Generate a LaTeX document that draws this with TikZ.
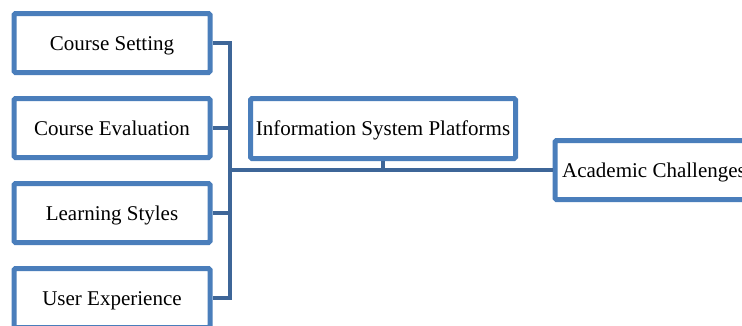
\documentclass[tikz,border=0pt]{standalone}
\usepackage{fontspec}
\setmainfont{Liberation Serif}
\definecolor{boxblue}{RGB}{74,126,187}
\definecolor{lineblue}{RGB}{62,102,152}
\begin{document}
\begin{tikzpicture}[x=1pt,y=-1pt,
  box/.style={draw=boxblue, line width=5pt, rounded corners=1.5pt, fill=white,
    minimum height=59pt, inner sep=0pt, text height=14pt, text depth=0pt,
    font=\fontsize{21}{25}\selectfont},
  conn/.style={draw=lineblue, line width=4.5pt, line join=miter}]
  \clip (0,0) rectangle (742,325);
  \fill[white] (0,0) rectangle (742,325);

  % x position of the vertical spine, y of the trunk line
  \coordinate (sp) at (230,170);

  % boxes
  \node[box, minimum width=196pt] (cs) at (112,43) {Course Setting};
  \node[box, minimum width=196pt] (ce) at (112,128) {Course Evaluation};
  \node[box, minimum width=196pt] (ls) at (112,213) {Learning Styles};
  \node[box, minimum width=196pt] (ue) at (112,298) {User Experience};
  \node[box, minimum width=265pt, minimum height=60pt] (isp) at (383,128.5) {Information System Platforms};
  \node[box, minimum width=198pt] (ac) at (654,170) {Academic Challenges};

  % connectors
  \draw[conn] (cs.east) -- (cs.east -| sp) -- (ue.east -| sp) -- (ue.east);
  \draw[conn] (ce.east) -- (ce.east -| sp);
  \draw[conn] (ls.east) -- (ls.east -| sp);
  \draw[conn] (sp) -- (ac.west);
  \draw[conn] (isp.south) -- (isp.south |- sp);
\end{tikzpicture}
\end{document}
